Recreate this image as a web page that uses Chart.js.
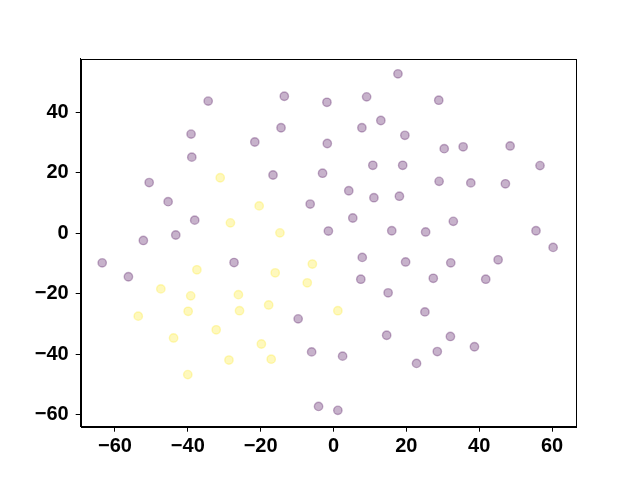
<!DOCTYPE html>
<html>
<head>
<meta charset="utf-8">
<script src="https://cdn.jsdelivr.net/npm/chart.js@4/dist/chart.umd.min.js"></script>
<style>
  html, body { margin: 0; padding: 0; background: #fff; }
  #wrap { width: 640px; height: 480px; }
</style>
</head>
<body>
<div id="wrap"><canvas id="chart" width="640" height="480"></canvas></div>
<script>
// cluster 0 (purple) points
var purpleX = [-34.4, -39.1, -38.9, -50.6, -45.4, -38.1, -43.3, -52.2, 17.7, -13.5,
               -1.8, 9.1, -14.4, 7.8, 13.0, 19.6, -21.6, -1.7, 10.8, 19.0,
               -16.6, -3.0, 4.2, 11.1, 18.1, -6.4, 5.3, -1.4, 16.0, 28.9,
               30.4, 35.6, 48.5, 56.7, 29.0, 37.7, 47.2, 32.9, 25.3, 55.6,
               60.3, -63.5, -56.3, -27.3, 7.9, 19.8, 7.5, 15.0, -9.7, 14.6,
               -6.0, 2.5, -4.1, 1.2, 32.2, 45.2, 27.4, 41.8, 25.1, 32.1,
               38.7, 28.5, 22.8];
var purpleY = [43.6, 32.7, 25.1, 16.7, 10.4, 4.3, -0.6, -2.4, 52.6, 45.2,
               43.2, 45.0, 34.8, 34.8, 37.2, 32.3, 30.1, 29.6, 22.4, 22.4,
               19.2, 19.8, 14.0, 11.7, 12.2, 9.6, 5.0, 0.7, 0.8, 43.9,
               27.9, 28.5, 28.8, 22.3, 17.1, 16.6, 16.3, 3.9, 0.4, 0.8,
               -4.7, -9.8, -14.4, -9.7, -8.0, -9.5, -15.2, -19.7, -28.3, -33.7,
               -39.2, -40.6, -57.2, -58.5, -9.8, -8.8, -14.9, -15.2, -26.0, -34.1,
               -37.5, -39.1, -43.0];

// cluster 1 (yellow) points
var yellowX = [-31.1, -28.3, -20.4, -14.7, -37.5, -47.4, -39.2, -26.1, -53.6, -39.9,
               -25.8, -32.2, -43.9, -28.7, -40.0, -5.8, -16.0, -7.2, -17.8, 1.2,
               -19.8, -17.1];
var yellowY = [18.3, 3.4, 9.0, 0.1, -12.1, -18.4, -20.7, -20.3, -27.4, -25.8,
               -25.6, -31.9, -34.6, -41.9, -46.7, -10.2, -13.1, -16.4, -23.7, -25.6,
               -36.6, -41.6];

var xTicks = [-60, -40, -20, 0, 20, 40, 60];
var yTicks = [-60, -40, -20, 0, 20, 40];

function toPoints(xs, ys) {
    var pts = [];
    for (var i = 0; i < xs.length; i += 1) {
        pts.push({x: xs[i], y: ys[i]});
    }
    return pts;
}

function minusSign(v) {
    return String(v).replace('-', '\u2212');
}

// full box around the plot area
var frame = {
    id: 'frame',
    afterDraw: function (chart) {
        var a = chart.chartArea;
        var c = chart.ctx;
        c.save();
        c.strokeStyle = '#000';
        c.lineWidth = 1;
        c.strokeRect(Math.round(a.left) + 0.5, Math.round(a.top) + 0.5,
                     Math.round(a.right - a.left), Math.round(a.bottom - a.top));
        c.restore();
    }
};

var font = {family: '"Liberation Sans", Arial, sans-serif', size: 20, weight: 'bold'};

var ctx = document.getElementById('chart').getContext('2d');
var chart = new Chart(ctx, {
    type: 'scatter',
    data: {
        datasets: [{
            data: toPoints(purpleX, purpleY),
            backgroundColor: 'rgba(68, 1, 84, 0.3)',
            borderColor: 'rgba(68, 1, 84, 0.3)',
            borderWidth: 1.4,
            pointRadius: 4.2
        }, {
            data: toPoints(yellowX, yellowY),
            backgroundColor: 'rgba(253, 231, 37, 0.3)',
            borderColor: 'rgba(253, 231, 37, 0.3)',
            borderWidth: 1.4,
            pointRadius: 4.2
        }]
    },
    options: {
        responsive: false,
        animation: false,
        layout: {padding: {top: 58.7, right: 64.3, left: 0, bottom: 0}},
        plugins: {legend: {display: false}, tooltip: {enabled: false}},
        scales: {
            x: {
                type: 'linear',
                min: -69.4,
                max: 66.5,
                afterFit: function (s) { s.height = 53.3; },
                afterBuildTicks: function (s) {
                    s.ticks = xTicks.map(function (v) { return {value: v}; });
                },
                grid: {display: true, drawOnChartArea: false, drawTicks: true, tickLength: 5, color: '#000'},
                border: {display: true, color: '#000'},
                ticks: {color: '#000', font: font, padding: 3, maxRotation: 0, callback: minusSign}
            },
            y: {
                type: 'linear',
                min: -63.9,
                max: 57.6,
                afterFit: function (s) { s.width = 80.7; },
                afterBuildTicks: function (s) {
                    s.ticks = yTicks.map(function (v) { return {value: v}; });
                },
                grid: {display: true, drawOnChartArea: false, drawTicks: true, tickLength: 5, color: '#000'},
                border: {display: true, color: '#000'},
                ticks: {color: '#000', font: font, padding: 7, callback: minusSign}
            }
        }
    },
    plugins: [frame]
});
</script>
</body>
</html>
